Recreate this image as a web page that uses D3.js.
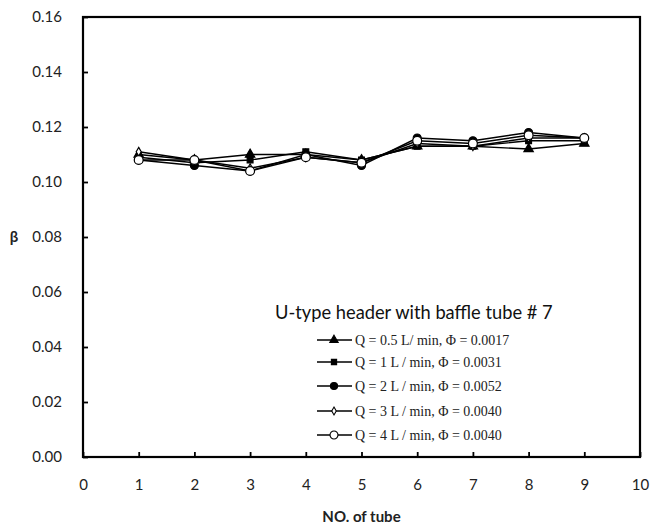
<!DOCTYPE html>
<html>
<head>
<meta charset="utf-8">
<script src="https://cdn.jsdelivr.net/npm/d3@7"></script>
<style>
  body { margin: 0; background: #fff; }
  svg text { font-family: Lato, "Open Sans", sans-serif; }
</style>
</head>
<body>
<div id="chart"></div>
<script>
// tube numbers
var tubes = [1, 2, 3, 4, 5, 6, 7, 8, 9];

// beta values per flow rate
var q05 = [0.110, 0.108, 0.110, 0.110, 0.108, 0.113, 0.113, 0.112, 0.114];
var q1  = [0.109, 0.107, 0.108, 0.111, 0.108, 0.113, 0.113, 0.115, 0.115];
var q2  = [0.108, 0.106, 0.104, 0.110, 0.106, 0.116, 0.115, 0.118, 0.116];
var q3  = [0.111, 0.108, 0.105, 0.109, 0.107, 0.114, 0.113, 0.116, 0.116];
var q4  = [0.108, 0.108, 0.104, 0.109, 0.107, 0.115, 0.114, 0.117, 0.116];

var seriesNames = [
  "Q = 0.5 L/ min, \u03A6 = 0.0017",
  "Q = 1 L / min, \u03A6 = 0.0031",
  "Q = 2 L / min, \u03A6 = 0.0052",
  "Q = 3 L / min, \u03A6 = 0.0040",
  "Q = 4 L / min, \u03A6 = 0.0040"
];
var seriesValues = [q05, q1, q2, q3, q4];
var markers = ["triangle", "square", "circle", "diamond", "circle"];
var fills = ["#000", "#000", "#000", "#fff", "#fff"];
var sizes = [38, 34, 50, 22, 62];

var yTicks = [0, 0.02, 0.04, 0.06, 0.08, 0.10, 0.12, 0.14, 0.16];
var xTicks = [0, 1, 2, 3, 4, 5, 6, 7, 8, 9, 10];

var margin = {top: 17, right: 12, bottom: 69, left: 83},
    width = 652 - margin.left - margin.right,
    height = 526 - margin.top - margin.bottom;

var x = d3.scaleLinear().domain([0, 10]).range([0, width]);
var y = d3.scaleLinear().domain([0, 0.16]).range([height, 0]);

var svg = d3.select("#chart").append("svg")
    .attr("width", 652)
    .attr("height", 526)
  .append("g")
    .attr("transform", "translate(" + margin.left + "," + margin.top + ")");

// frame
svg.append("rect")
    .attr("width", width)
    .attr("height", height)
    .attr("fill", "none")
    .attr("stroke", "#000")
    .attr("stroke-width", 2.2);

// x axis, ticks pointing inward
var xAxis = svg.append("g")
    .attr("transform", "translate(0," + height + ")")
    .call(d3.axisBottom(x).tickValues(xTicks).tickFormat(d3.format("d"))
      .tickSize(-5).tickPadding(22));
xAxis.select(".domain").remove();
xAxis.selectAll("line").attr("stroke-width", 1.8);
xAxis.selectAll("text").attr("font-size", 15).attr("fill", "#222");

var yAxis = svg.append("g")
    .call(d3.axisLeft(y).tickValues(yTicks).tickFormat(d3.format(".2f"))
      .tickSize(-5).tickPadding(21));
yAxis.select(".domain").remove();
yAxis.selectAll("line").attr("stroke-width", 1.8);
yAxis.selectAll("text").attr("font-size", 15).attr("fill", "#222");

// axis titles
svg.append("text")
    .attr("x", width / 2)
    .attr("y", height + 65)
    .attr("text-anchor", "middle")
    .attr("font-size", 15)
    .attr("font-weight", "bold")
    .attr("fill", "#222")
    .text("NO. of  tube");

svg.append("text")
    .attr("x", -69)
    .attr("y", height / 2 + 5)
    .attr("text-anchor", "middle")
    .attr("font-size", 15)
    .attr("font-weight", "bold")
    .attr("fill", "#222")
    .text("\u03B2");

function symbolFor(m) {
  if (m === "triangle") return d3.symbolTriangle;
  if (m === "square") return d3.symbolSquare;
  if (m === "diamond") return d3.symbolDiamond;
  return d3.symbolCircle;
}

var line = d3.line()
    .x(function(d) { return x(d.t); })
    .y(function(d) { return y(d.v); });

seriesValues.forEach(function(vals, i) {
  var pts = tubes.map(function(t, j) { return {t: t, v: vals[j]}; });
  svg.append("path")
      .datum(pts)
      .attr("fill", "none")
      .attr("stroke", "#000")
      .attr("stroke-width", 1.4)
      .attr("d", line);
});

seriesValues.forEach(function(vals, i) {
  var pts = tubes.map(function(t, j) { return {t: t, v: vals[j]}; });
  svg.selectAll(".m" + i)
      .data(pts)
    .enter().append("path")
      .attr("class", "m" + i)
      .attr("transform", function(d) { return "translate(" + x(d.t) + "," + y(d.v) + ")"; })
      .attr("d", d3.symbol().type(symbolFor(markers[i])).size(sizes[i]))
      .attr("fill", fills[i])
      .attr("stroke", "#000")
      .attr("stroke-width", 1.2);
});

// legend
var leg = svg.append("g").attr("transform", "translate(" + (275 - margin.left) + ",0)");
leg.append("text")
    .attr("x", 0)
    .attr("y", 313 - margin.top + 6)
    .attr("font-size", 18.3)
    .attr("fill", "#111")
    .text("U-type header with baffle tube # 7");

var legY = [340, 362, 386, 411, 435];
seriesNames.forEach(function(name, i) {
  var g = leg.append("g").attr("transform", "translate(0," + (legY[i] - margin.top) + ")");
  g.append("line")
      .attr("x1", 42).attr("x2", 77)
      .attr("stroke", "#000").attr("stroke-width", 1.4);
  g.append("path")
      .attr("transform", "translate(59,0)")
      .attr("d", d3.symbol().type(symbolFor(markers[i])).size(sizes[i] * 0.8))
      .attr("fill", fills[i])
      .attr("stroke", "#000")
      .attr("stroke-width", 1.1);
  g.append("text")
      .attr("x", 80)
      .attr("y", 5)
      .attr("font-size", 14)
      .style("font-family", "'Liberation Serif', 'DejaVu Serif', serif")
      .attr("fill", "#222")
      .text(name);
});
</script>
</body>
</html>
